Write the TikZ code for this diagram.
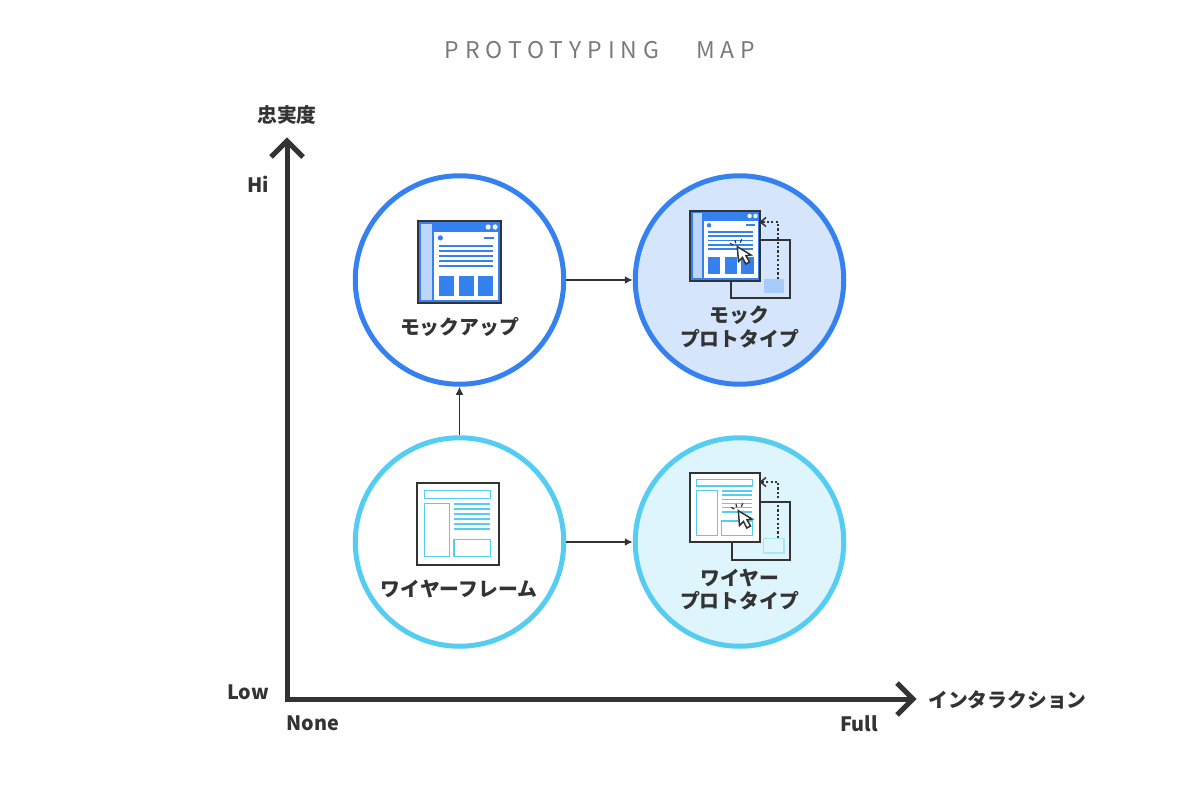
\documentclass[tikz,border=0pt]{standalone}
\usepackage{fontspec}
\setmainfont{Noto Sans CJK JP}
\newfontfamily\titlefont{Noto Sans CJK JP}[LetterSpace=26]
\usetikzlibrary{arrows.meta}
\definecolor{cblue}{HTML}{3581EF}
\definecolor{ccyan}{HTML}{55CDF3}
\definecolor{cpaleblue}{HTML}{D5E5FB}
\definecolor{cpalecyan}{HTML}{DEF5FD}
\definecolor{csquare}{HTML}{A9CBFB}
\definecolor{cside}{HTML}{BDD6FA}
\definecolor{cdark}{HTML}{333333}
\definecolor{ctitle}{HTML}{7A7A7A}
\tikzset{
  ring/.style={circle,minimum size=208.5pt,inner sep=0pt,line width=5pt,draw},
  lbl/.style={font=\fontsize{19.8}{23.5}\selectfont\bfseries,text=cdark,align=center,inner sep=0pt},
  axis/.style={draw=cdark,line width=5pt},
  link/.style={draw=cdark,line width=1.6pt,-{Latex[length=8pt,width=8pt]}},
  dots/.style={draw=cdark,line width=1.8pt,dash pattern=on 2.2pt off 2.2pt},
  frame/.style={draw=cdark,line width=2pt},
}
% mockup icon, drawn in an 83 x 83 box
\newcommand{\mockicon}[3]{%
\begin{scope}[shift={(#1,#2)},scale=#3]
  \fill[cblue] (0,0) rectangle (83,83);
  \fill[cside] (3.5,3.5) rectangle (14.5,79.5);
  \fill[white] (16,12) rectangle (80,80);
  \fill[white] (70.5,6.5) circle (2.6) (77.5,6.5) circle (2.6);
  \fill[cblue] (22.5,17.5) circle (2.6);
  \draw[cblue,line width=1.7pt] (66.5,17.5) -- (76.5,17.5);
  \foreach \yy in {25.5,30.5,35.5,40.5,45.5}
    \draw[cblue,line width=1.7pt] (21.5,\yy) -- (75,\yy);
  \fill[cblue] (21,55.5) rectangle (36,75.5);
  \fill[cblue] (41,55.5) rectangle (56,75.5);
  \fill[cblue] (60.5,55.5) rectangle (75.5,75.5);
  \draw[frame] (0,0) rectangle (83,83);
\end{scope}}
% cursor with its click sparks; tip at the given point
\newcommand{\clickcursor}[2]{%
\begin{scope}[shift={(#1,#2)}]
  \draw[cdark,line width=1.2pt] (-7.3,-3.4) -- (-4,-1.7) (-2.3,-6.7) -- (-1.6,-3.4) (4.4,-7.4) -- (3,-4);
  \draw[cdark,fill=white,line width=1.5pt,line join=miter]
    (0,0) -- (1.2,14.8) -- (5.2,10.8) -- (8.5,17.3) -- (12.2,15.3) -- (8.7,9.1) -- (13.7,8.3) -- cycle;
\end{scope}}
\begin{document}
\begin{tikzpicture}[x=1pt,y=-1pt]
\useasboundingbox (0,0) rectangle (1200,790);
\fill[white] (0,0) rectangle (1200,790);

\node[font=\titlefont\fontsize{23}{27}\selectfont,text=ctitle,inner sep=0pt] (title) at (600,50.5) {PROTOTYPING\hspace{1.6em}MAP};

% axes
\coordinate (origin) at (287,699);
\coordinate (ytip) at (287,141);
\coordinate (xtip) at (913,699);
\draw[axis,line join=miter] (287,701.5) -- (ytip);
\draw[axis,line join=miter] (origin) -- (xtip);
\draw[axis,line join=miter] (271,157) -- (ytip) -- (303,157);
\draw[axis,line join=miter] (897,683) -- (xtip) -- (897,715);

\node[lbl] (yname) at (287,115) {忠実度};
\node[lbl] (hi) at (258,184.5) {Hi};
\node[lbl] (low) at (248,692.5) {Low};
\node[lbl] (none) at (313,723.5) {None};
\node[lbl] (full) at (859,723.5) {Full};
\node[lbl] (xname) at (1007.5,700) {インタラクション};

% rings
\node[ring,draw=cblue,fill=white] (mock) at (459.5,280) {};
\node[ring,draw=cblue,fill=cpaleblue] (mockp) at (739.5,280) {};
\node[ring,draw=ccyan,fill=white] (wire) at (459.5,542) {};
\node[ring,draw=ccyan,fill=cpalecyan] (wirep) at (739.5,542) {};

% connectors
\draw[link] (mock.east) -- (mockp.west);
\draw[link] (wire.east) -- (wirep.west);
\draw[link] (wire.north) -- (mock.south);

% mockup icon
\mockicon{418}{220.5}{0.995}
\node[lbl] (mocklabel) at (459.5,326.5) {モックアップ};

% mock prototype icon
\draw[frame] (731,240) rectangle (789.5,298);
\fill[csquare] (764,279) rectangle (784,293);
\mockicon{690}{210.5}{0.845}
\coordinate (mfrom) at (778,279);
\coordinate (mcorner) at (778,222);
\coordinate (mto) at (761,222);
\draw[dots] (mfrom) -- (mcorner) -- (mto);
\draw[cdark,line width=1.5pt] (766,217.5) -- (760.5,222) -- (766,226.5);
\clickcursor{737.3}{246.7}
\node[lbl] (mockplabel) at (739.5,327) {モック\\プロトタイプ};

% wireframe icon
\draw[frame,fill=white] (416.5,482.5) rectangle (499,565);
\begin{scope}[draw=ccyan,line width=1.5pt]
  \draw (424.3,490.3) rectangle (490.7,498.7);
  \draw (424.3,503.3) rectangle (449.3,556.3);
  \draw (454,539.7) rectangle (490.7,556.3);
  \foreach \yy in {504,509,514,519,524,529}
    \draw (454.3,\yy) -- (490.3,\yy);
\end{scope}
\node[lbl] (wirelabel) at (459,589.5) {ワイヤーフレーム};

% wire prototype icon
\draw[frame] (732.3,502) rectangle (790.3,559.5);
\draw[ccyan!50!white,fill=cpalecyan,line width=1.5pt] (763.6,538.3) rectangle (784,553);
\draw[frame,fill=white] (690,472.5) rectangle (759.7,542);
\begin{scope}[draw=ccyan,line width=1.5pt]
  \draw (696.7,479.3) rectangle (752.7,486);
  \draw (696.7,490.7) rectangle (717.7,535.3);
  \draw (721.7,521) rectangle (752.7,535.3);
  \foreach \yy in {491,495.2,499.4,503.5,507.7,511.8}
    \draw (722,\yy) -- (752.3,\yy);
\end{scope}
\coordinate (wfrom) at (778.3,538);
\coordinate (wcorner) at (778.3,482);
\coordinate (wto) at (761,482);
\draw[dots] (wfrom) -- (wcorner) -- (wto);
\draw[cdark,line width=1.5pt] (766,477.5) -- (760.5,482) -- (766,486.5);
\clickcursor{738.3}{510.7}
\node[lbl] (wireplabel) at (739.5,589.5) {ワイヤー\\プロトタイプ};
\end{tikzpicture}
\end{document}
